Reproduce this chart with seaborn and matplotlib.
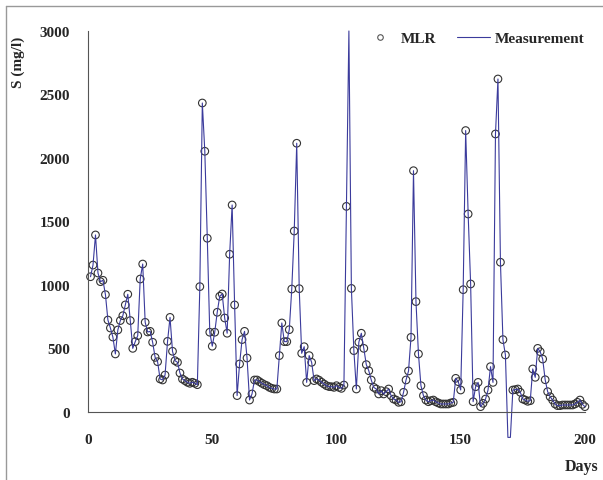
import numpy as np
import pandas as pd
import matplotlib
matplotlib.use("Agg")
import matplotlib.pyplot as plt
import seaborn as sns
from matplotlib.lines import Line2D

days = list(range(1, 201))

mlr = [
    1065, 1157, 1394, 1094, 1026, 1037, 924, 724, 661, 590,
    457, 646, 720, 758, 843, 927, 720, 501, 554, 601,
    1047, 1165, 706, 630, 635, 549, 430, 396, 260, 252,
    291, 556, 745, 478, 404, 391, 307, 260, 247, 234,
    226, 234, 226, 215, 987, 2433, 2053, 1368, 628, 518,
    628, 785, 911, 929, 740, 620, 1242, 1630, 843, 129,
    378, 570, 635, 425, 94, 142, 252, 252, 239, 226,
    215, 207, 194, 186, 181, 181, 444, 701, 554, 554,
    648, 968, 1425, 2116, 971, 462, 514, 233, 444, 391,
    247, 260, 250, 234, 220, 207, 200, 199, 194, 207,
    194, 186, 212, 1619, np.nan, 973, 483, 181, 549, 620,
    501, 373, 325, 252, 194, 181, 142, 168, 142, 160,
    181, 129, 102, 94, 76, 80, 155, 252, 323, 588,
    1900, 869, 457, 207, 129, 94, 81, 89, 94, 80,
    71, 63, 63, 63, 63, 71, 76, 265, 239, 173,
    963, 2216, 1559, 1008, 81, 199, 233, 42, 68, 102,
    173, 357, 233, 2189, 2622, 1179, 570, 449, np.nan, np.nan,
    173, 176, 181, 155, 102, 94, 84, 89, 339, 273,
    501, 475, 417, 254, 160, 120, 94, 63, 50, 50,
    55, 55, 55, 55, 55, 63, 76, 94, 60, 42,
]

# Measurement coincides with MLR except where it departs
measurement_diff = {105: 3000, 169: -200, 170: -200}
measurement = [measurement_diff.get(d, v) for d, v in zip(days, mlr)]

df = pd.DataFrame({"Days": days, "MLR": mlr, "Measurement": measurement})

sns.set_theme(style="white")
plt.rcParams["font.family"] = ["Liberation Serif", "DejaVu Serif"]
plt.rcParams["font.weight"] = "bold"

fig = plt.figure(figsize=(6.03, 4.81), dpi=100)
ax = fig.add_axes([0.146, 0.1414, 0.824, 0.7921])

line_color = "#3b3b9c"
sns.lineplot(data=df, x="Days", y="Measurement", ax=ax, color=line_color,
             linewidth=0.8, clip_on=False, legend=False)
sns.scatterplot(data=df, x="Days", y="MLR", ax=ax, marker="o", s=30,
                facecolors="none", edgecolor="#333333", linewidth=0.8,
                clip_on=False, legend=False)

ax.set_xlim(0, 200)
ax.set_ylim(0, 3000)
ax.set_xticks([0, 50, 100, 150, 200])
ax.set_yticks([0, 500, 1000, 1500, 2000, 2500, 3000])
ax.set_xlabel("")
ax.set_ylabel("")

for s in ["top", "right"]:
    ax.spines[s].set_visible(False)
for s in ["left", "bottom"]:
    ax.spines[s].set_color("#555555")
    ax.spines[s].set_linewidth(0.8)

ax.tick_params(axis="both", which="major", direction="out", length=4,
               width=0.8, color="#555555", labelsize=11)
ax.tick_params(axis="x", pad=11)
ax.tick_params(axis="y", pad=9)
for lab in ax.get_xticklabels() + ax.get_yticklabels():
    lab.set_fontweight("bold")

fig.text(0.03, 0.87, "S (mg/l)", rotation=90, ha="center", va="center",
         fontsize=11, fontweight="bold")
fig.text(0.993, 0.03, "Days", ha="right", va="center",
         fontsize=11.5, fontweight="bold")

handles = [
    Line2D([], [], linestyle="none", marker="o", markersize=4,
           markerfacecolor="none", markeredgecolor="#555555", markeredgewidth=0.8),
    Line2D([], [], color=line_color, linewidth=0.8),
]
leg = ax.legend(handles, ["MLR", "Measurement"], ncol=2, frameon=False,
                loc="upper right", bbox_to_anchor=(1.027, 1.035),
                prop={"weight": "bold", "size": 11}, handlelength=2.2,
                columnspacing=1.3, handletextpad=0.3)

# figure border (left and top)
fig.add_artist(Line2D([0.01, 0.01], [0.0, 0.985], transform=fig.transFigure,
                      color="#999999", linewidth=1))
fig.add_artist(Line2D([0.01, 1.0], [0.985, 0.985], transform=fig.transFigure,
                      color="#999999", linewidth=1))

fig.savefig("out.png", dpi=100, facecolor="white")
